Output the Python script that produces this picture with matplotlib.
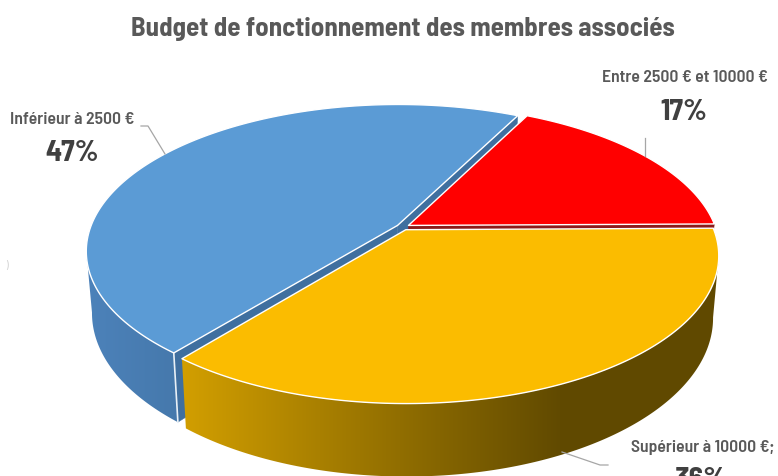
import numpy as np
import matplotlib.pyplot as plt
from matplotlib.patches import Polygon

# %% data
names = ["Entre 2500 € et 10000 €", "Inférieur à 2500 €", "Supérieur à 10000 €;"]
shares = [17.4, 46.6, 36]
percents = ["17%", "47%", "36%"]
top_colors = ["#FF0000", "#5B9BD5", "#FBBC00"]
title = "Budget de fonctionnement des membres associés"

# %% projection of the tilted disc, in image pixels
CX, CY = 403, 228
RX, RY = 307, 142.5
PERSP = 0.1744
DEPTH = 60
EXPLODE = 0.021
START = 0.6
# the side wall is only seen between these two angles
WALL_FROM, WALL_TO = 190, 350


def project(u, v, drop=0.0):
    w = 1 + PERSP * v
    x = RX * u / w
    y = -RY * v / w
    # lower rim sits a little inwards and further down near the viewer
    return CX + x * (1 - 0.018 * drop), CY + y + drop * DEPTH / w


def rim(a0, a1, off, drop=0.0, n=200):
    t = np.radians(np.linspace(a0, a1, n))
    return project(np.cos(t) + off[0], np.sin(t) + off[1], drop)


plt.rcParams['font.family'] = ['Barlow Semi Condensed', 'Roboto Condensed', 'Roboto', 'DejaVu Sans']
fig = plt.figure(figsize=(7.78, 4.77), dpi=100)
ax = fig.add_axes([0, 0, 1, 1])
ax.axis('off')

edges = START + np.cumsum([0] + shares) * 3.6
offsets = []
for a0, a1 in zip(edges[:-1], edges[1:]):
    mid = np.radians((a0 + a1) / 2)
    offsets.append((EXPLODE * np.cos(mid), EXPLODE * np.sin(mid)))
red_off, blue_off, yellow_off = offsets


def cut_face(angle, off, color, z):
    t = np.radians(angle)
    ends = [(off[0], off[1], 0), (np.cos(t) + off[0], np.sin(t) + off[1], 0),
            (np.cos(t) + off[0], np.sin(t) + off[1], 1), (off[0], off[1], 1)]
    pts = [project(u, v, d) for u, v, d in ends]
    ax.add_patch(Polygon(pts, closed=True, fc=color, ec=color, lw=0.3, zorder=z))


def wall(a0, a1, off, x_stops, colors, z):
    xt, yt = rim(a0, a1, off)
    xb, yb = rim(a1, a0, off, 1)
    shape = Polygon(np.column_stack([np.r_[xt, xb], np.r_[yt, yb]]), closed=True,
                    fc='none', ec='none', transform=ax.transData)
    ax.add_patch(shape)
    xs = np.arange(0, 778)
    grad = np.stack([np.interp(xs, x_stops, [c[i] for c in colors]) for i in range(3)], axis=-1)
    img = ax.imshow(grad[np.newaxis, :, :], extent=(0, 778, 477, 0), aspect='auto',
                    interpolation='bilinear', zorder=z)
    img.set_clip_path(shape)


# faces, from the back to the front
cut_face(edges[1], blue_off, "#3F6F9F", 1)
cut_face(edges[2], blue_off, "#3F6F9F", 1)
cut_face(edges[0], red_off, "#8C1A1A", 1.5)
wall(WALL_FROM, edges[2], blue_off, [85, 185], [(0.30, 0.51, 0.73), (0.27, 0.47, 0.67)], 2)
wall(edges[2], WALL_TO, yellow_off, [185, 560], [(0.82, 0.62, 0.0), (0.38, 0.29, 0.0)], 3)

# light vertical edge at the blue corner
xc, yc = rim(edges[2], edges[2], blue_off, 0, 1)
xd, yd = rim(edges[2], edges[2], blue_off, 1, 1)
ax.plot([xc[0], xd[0]], [yc[0], yd[0]], color="#E8F0F6", lw=1.2, zorder=4)

for i, off in enumerate(offsets):
    x, y = rim(edges[i], edges[i + 1], off)
    px, py = project(off[0], off[1])
    ax.add_patch(Polygon(np.column_stack([np.r_[px, x], np.r_[py, y]]), closed=True,
                         fc=top_colors[i], ec="white", lw=1.0, zorder=5 + i,
                         joinstyle='round'))

# leader lines
leader_color = "#A6A6A6"
ax.plot([141, 148, 165], [127, 127, 155], color=leader_color, lw=0.9, zorder=8)
ax.plot([645, 645], [139, 157], color=leader_color, lw=0.9, zorder=8)
ax.plot([608, 600, 562], [466, 466, 453], color=leader_color, lw=0.9, zorder=8)

# texts
text_color = "#595959"
ax.text(403, 29, title, color=text_color, fontsize=19.4, fontweight='bold', ha='center', va='center')
ax.text(72, 120, names[1], color=text_color, fontsize=12.7, fontweight='semibold', ha='center', va='center')
ax.text(72, 154, percents[1], color="#404040", fontsize=21.5, fontweight='bold', ha='center', va='center')
ax.text(685, 78, names[0], color=text_color, fontsize=12.7, fontweight='semibold', ha='center', va='center')
ax.text(684, 112, percents[0], color="#404040", fontsize=21.5, fontweight='bold', ha='center', va='center')
ax.text(703, 448, names[2], color=text_color, fontsize=12.7, fontweight='semibold', ha='center', va='center')
ax.text(701, 481, percents[2], color="#404040", fontsize=21.5, fontweight='bold', ha='center', va='center')
ax.text(6, 266, ")", color="#D0D0D0", fontsize=8, ha='center', va='center')

ax.set_xlim(0, 778)
ax.set_ylim(477, 0)
fig.savefig("out.png", dpi=100)
